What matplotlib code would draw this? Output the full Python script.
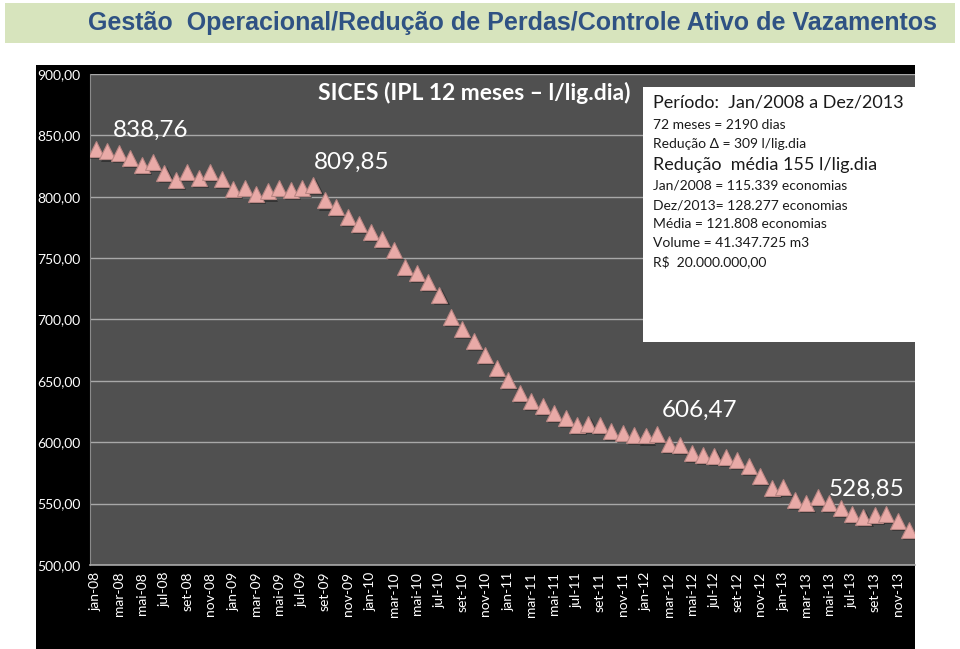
import matplotlib
matplotlib.use('Agg')
import matplotlib.pyplot as plt
from matplotlib.patches import Rectangle
import matplotlib.patheffects as pe

# IPL 12 meses (l/lig.dia), jan/2008 a dez/2013
meses = ['jan', 'fev', 'mar', 'abr', 'mai', 'jun', 'jul', 'ago', 'set', 'out', 'nov', 'dez']
anos = ['08', '09', '10', '11', '12', '13']
rotulos = [m + '-' + a for a in anos for m in meses]

ipl = [838.76, 836.9, 835.9, 831.8, 826.1, 828.6, 819.2, 813.7, 820.0, 815.1, 820.0, 814.5,
       806.3, 807.4, 802.1, 804.3, 807.1, 805.2, 807.2, 809.85, 797.0, 791.7, 783.5, 777.5,
       771.3, 765.3, 756.3, 742.8, 738.2, 730.6, 719.7, 702.1, 692.6, 682.6, 670.8, 660.6,
       650.5, 640.2, 633.7, 629.6, 624.2, 619.9, 614.4, 615.2, 614.4, 609.0, 607.9, 605.7,
       605.5, 606.47, 598.9, 597.6, 591.6, 589.4, 588.9, 588.1, 585.3, 580.8, 572.3, 562.9,
       563.7, 552.8, 550.9, 555.5, 550.9, 546.6, 541.9, 539.2, 540.6, 541.9, 535.7, 528.85]

yticks = [500, 550, 600, 650, 700, 750, 800, 850, 900]

# pontos com rotulo: (indice, deslocamento x px, deslocamento y px)
destaques = [(0, 17, 19), (19, 0, 22), (49, 5, 24), (71, -81, 40)]

info = [
    ('Período:  Jan/2008 a Dez/2013', 13),
    ('72 meses = 2190 dias', 10),
    ('Redução Δ = 309 l/lig.dia', 10),
    ('Redução  média 155 l/lig.dia', 13),
    ('Jan/2008 = 115.339 economias', 10),
    ('Dez/2013= 128.277 economias', 10),
    ('Média = 121.808 economias', 10),
    ('Volume = 41.347.725 m3', 10),
    ('R$  20.000.000,00', 10),
]

fonte = ['Lato', 'DejaVu Sans']
plt.rcParams['font.family'] = fonte

W, H = 960, 649
fig = plt.figure(figsize=(W / 100, H / 100), dpi=100)
fig.patch.set_facecolor('white')


def fx(px):
    return px / W


def fy(py):
    return 1 - py / H


# faixa do titulo
fig.patches.append(Rectangle((fx(5), fy(43)), fx(950), 40 / H, transform=fig.transFigure,
                             facecolor='#d7e4bd', edgecolor='none', zorder=-2))
fig.text(fx(513), fy(23), 'Gestão  Operacional/Redução de Perdas/Controle Ativo de Vazamentos',
         ha='center', va='center', fontsize=18, fontweight='bold', color='#2f5283',
         family=['Liberation Sans Narrow', 'Liberation Sans', 'DejaVu Sans'])

# fundo preto do grafico
fig.patches.append(Rectangle((fx(36), 0), fx(879), fy(65), transform=fig.transFigure,
                             facecolor='black', edgecolor='none', zorder=-2))

ax = fig.add_axes([fx(90), fy(565), fx(825), 491 / H])
ax.set_facecolor('#505050')
x = list(range(len(ipl)))
ax.plot(x, ipl, linestyle='none', marker='^', markersize=11.5,
        markerfacecolor='#e9aaa7', markeredgecolor='#b98683', markeredgewidth=0.8,
        path_effects=[pe.SimplePatchShadow(offset=(1.5, -1.5), shadow_rgbFace='#222222', alpha=0.6),
                      pe.Normal()], zorder=3)

ax.set_xlim(-0.5, len(ipl) - 0.5)
ax.set_ylim(500, 900)
ax.set_yticks(yticks)
ax.set_yticklabels([f'{v:.2f}'.replace('.', ',') for v in yticks], color='white', fontsize=10)
ax.yaxis.grid(True, color='#a8a8a8', linewidth=1)
ax.set_axisbelow(True)
ax.tick_params(axis='y', length=0, pad=7)

ax.set_xticks(x[::2])
ax.set_xticklabels(rotulos[::2], rotation=90, color='white', fontsize=10)
ax.tick_params(axis='x', length=0, pad=5)

for side in ['top', 'right']:
    ax.spines[side].set_visible(False)
ax.spines['left'].set_color('#8a8a8a')
ax.spines['bottom'].set_color('#a8a8a8')
ax.spines['bottom'].set_linewidth(1.2)

for i, dx, dy in destaques:
    ax.annotate(f'{ipl[i]:.2f}'.replace('.', ','), (x[i], ipl[i]),
                xytext=(dx * 0.72, dy * 0.72), textcoords='offset points',
                ha='left', va='center', color='white', fontsize=17.5, zorder=5)

fig.text(fx(318), fy(93), 'SICES (IPL 12 meses – l/lig.dia)', ha='left', va='center',
         color='white', fontsize=16.5, fontweight='bold')

# caixa de informacoes
fig.patches.append(Rectangle((fx(643), fy(342)), fx(272), 255 / H, transform=fig.transFigure,
                             facecolor='white', edgecolor='none', zorder=4))
ys = [103, 125, 144, 165, 186, 205, 224, 243, 262]
for (txt, tam), yy in zip(info, ys):
    fig.text(fx(653), fy(yy), txt, ha='left', va='center', fontsize=tam,
             color='#1a1a1a', zorder=5)

fig.savefig('out.png', dpi=100, facecolor=fig.get_facecolor())
